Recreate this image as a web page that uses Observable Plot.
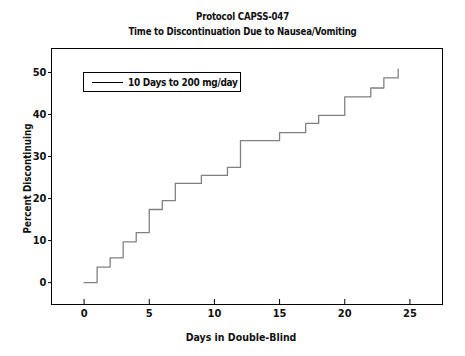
<!DOCTYPE html>
<html>
<head>
<meta charset="utf-8">
<script src="https://cdn.jsdelivr.net/npm/d3@7"></script>
<script src="https://cdn.jsdelivr.net/npm/@observablehq/plot@0.6"></script>
<style>
  body { margin: 0; background: #fff; }
  #wrap { position: relative; width: 465px; height: 356px; font-family: "DejaVu Sans Condensed", "DejaVu Sans", sans-serif; font-stretch: condensed; font-weight: bold; color: #111; }
  #title { height: 40px; text-align: center; font-size: 9.6px; letter-spacing: -0.2px; line-height: 15px; padding-top: 9px; box-sizing: border-box; margin-left: 20px; }
  #legend { position: absolute; left: 83px; top: 72px; width: 158px; height: 20px; box-sizing: border-box; border: 1px solid #000; font-size: 10px; letter-spacing: -0.3px; display: flex; align-items: center; background: #fff; white-space: nowrap; }
  #legend .sw { display: inline-block; width: 31px; height: 0; border-top: 1px solid #000; margin-left: 8px; margin-right: 5px; }
  svg { display: block; }
  svg text { font-stretch: condensed; }
</style>
</head>
<body>
<div id="wrap">
  <div id="title">Protocol CAPSS-047<br>Time to Discontinuation Due to Nausea/Vomiting</div>
  <div id="chart"></div>
  <div id="legend"><span class="sw"></span><span id="legtext"></span></div>
</div>
<script>
const titleLines = ["Protocol CAPSS-047", "Time to Discontinuation Due to Nausea/Vomiting"];
const seriesName = "10 Days to 200 mg/day";
const days = [0, 1, 2, 3, 4, 5, 6, 7, 9, 11, 12, 15, 17, 18, 20, 22, 23, 24.1];
const percent = [0, 3.7, 5.9, 9.7, 11.9, 17.4, 19.5, 23.6, 25.5, 27.4, 33.8, 35.7, 37.9, 39.8, 44.2, 46.3, 48.7, 50.8];
const xTicks = [0, 5, 10, 15, 20, 25];
const yTicks = [0, 10, 20, 30, 40, 50];
const xLabel = "Days in Double-Blind";
const yLabel = "Percent Discontinuing";

document.getElementById("legtext").textContent = seriesName;

const data = days.map((d, i) => ({day: d, pct: percent[i]}));
const font = "\"DejaVu Sans Condensed\", \"DejaVu Sans\", sans-serif";

const chart = Plot.plot({
  width: 465,
  height: 316,
  marginLeft: 51,
  marginRight: 23,
  marginTop: 8,
  marginBottom: 52,
  style: {fontFamily: font, fontWeight: "bold", fontSize: "11px", color: "#111", background: "#fff"},
  x: {domain: [-2.5, 27.5]},
  y: {domain: [-5.2, 55.7]},
  marks: [
    Plot.frame({stroke: "#000", strokeWidth: 1}),
    Plot.axisX(xTicks, {tickSize: -5, tickFormat: () => "", label: null, stroke: "#000"}),
    Plot.axisX(xTicks, {tickSize: 0, tickPadding: 5, label: null, fontSize: 11}),
    Plot.axisY(yTicks, {tickSize: 3, tickPadding: 2, label: null, fontSize: 11, stroke: "#000"}),
    Plot.text([xLabel], {frameAnchor: "bottom", dx: -6, dy: 36, fontSize: 10.5, letterSpacing: -0.2}),
    Plot.text([yLabel], {frameAnchor: "left", textAnchor: "middle", dx: -24, dy: 2, rotate: -90, fontSize: 9.8, letterSpacing: -0.2}),
    Plot.line(data, {x: "day", y: "pct", curve: "step-after", stroke: "#808080", strokeWidth: 1.3})
  ]
});
document.getElementById("chart").appendChild(chart);
</script>
</body>
</html>
